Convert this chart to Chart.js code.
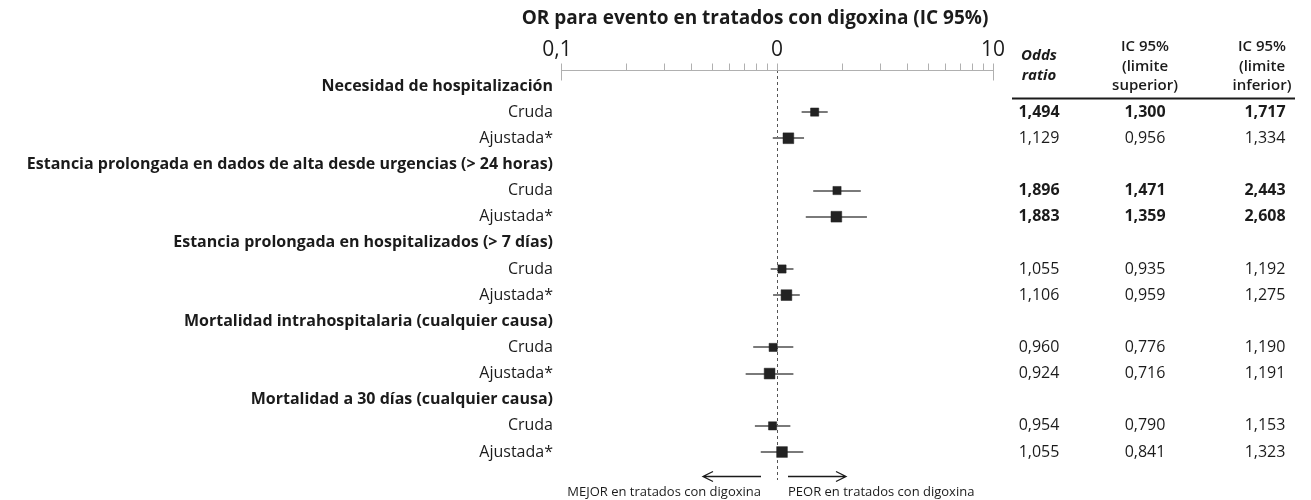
<!DOCTYPE html>
<html lang="es">
<head>
<meta charset="utf-8">
<title>OR para evento en tratados con digoxina</title>
<script src="https://cdn.jsdelivr.net/npm/chart.js@4.4.1/dist/chart.umd.min.js"></script>
<style>
  html, body { margin: 0; padding: 0; background: #ffffff; }
  #wrap { position: relative; width: 1311px; height: 500px; }
</style>
</head>
<body>
<div id="wrap"><canvas id="forest" width="1311" height="500"></canvas></div>
<script>
// Outcomes and the two models reported for each one
const outcomes = [
  'Necesidad de hospitalización',
  'Estancia prolongada en dados de alta desde urgencias (> 24 horas)',
  'Estancia prolongada en hospitalizados (> 7 días)',
  'Mortalidad intrahospitalaria (cualquier causa)',
  'Mortalidad a 30 días (cualquier causa)'
];
const models = ['Cruda', 'Ajustada*'];

// One value per outcome/model pair, in outcome order (Cruda, Ajustada*)
const oddsRatio = [1.494, 1.129, 1.896, 1.883, 1.055, 1.106, 0.960, 0.924, 0.954, 1.055];
const ciLower   = [1.300, 0.956, 1.471, 1.359, 0.935, 0.959, 0.776, 0.716, 0.790, 0.841];
const ciUpper   = [1.717, 1.334, 2.443, 2.608, 1.192, 1.275, 1.190, 1.191, 1.153, 1.323];

// Log axis ticks and the labels printed above the major ones
const axisTicks = [0.1, 0.2, 0.3, 0.4, 0.5, 0.6, 0.7, 0.8, 0.9, 1, 2, 3, 4, 5, 6, 7, 8, 9, 10];
const axisMajorTicks = [0.1, 1, 10];
const axisMajorLabels = ['0,1', '0', '10'];

const titleText = 'OR para evento en tratados con digoxina (IC 95%)';
const tableHeaders = [
  ['Odds', 'ratio'],
  ['IC 95%', '(limite', 'superior)'],
  ['IC 95%', '(limite', 'inferior)']
];
const directionLabels = ['MEJOR en tratados con digoxina', 'PEOR en tratados con digoxina'];

const FONT = '"Open Sans", sans-serif';
const INK = '#1b1b1b';

// Row index of each estimate: every outcome takes a heading row plus one row per model
const rowOf = oddsRatio.map((_, i) => Math.floor(i / models.length) * (models.length + 1) + 1 + (i % models.length));
const fmt = v => v.toFixed(3).replace('.', ',');

const points = oddsRatio.map((v, i) => ({ x: v, y: rowOf[i] }));

const forestPlugin = {
  id: 'forestLayer',
  beforeDatasetsDraw(chart) {
    const { ctx, scales: { x, y }, chartArea } = chart;
    ctx.save();
    // reference line at OR = 1
    ctx.strokeStyle = '#555';
    ctx.lineWidth = 1;
    ctx.setLineDash([3, 3]);
    const x1 = Math.round(x.getPixelForValue(1)) + 0.5;
    ctx.beginPath();
    ctx.moveTo(x1, chartArea.top);
    ctx.lineTo(x1, chartArea.bottom);
    ctx.stroke();
    ctx.setLineDash([]);

    // confidence interval whiskers
    ctx.strokeStyle = '#7a7a7a';
    ctx.lineWidth = 2;
    oddsRatio.forEach((_, i) => {
      const py = Math.round(y.getPixelForValue(rowOf[i]));
      ctx.beginPath();
      ctx.moveTo(x.getPixelForValue(ciLower[i]), py);
      ctx.lineTo(x.getPixelForValue(ciUpper[i]), py);
      ctx.stroke();
    });
    ctx.restore();
  },
  afterDraw(chart) {
    const { ctx, scales: { x, y }, chartArea } = chart;
    ctx.save();

    // title
    ctx.fillStyle = INK;
    ctx.font = `bold 19px ${FONT}`;
    ctx.textAlign = 'center';
    ctx.textBaseline = 'middle';
    ctx.fillText(titleText, 755, 19);

    // log axis along the top
    const axisY = chartArea.top + 0.5;
    ctx.strokeStyle = '#b0b0b0';
    ctx.lineWidth = 1;
    ctx.beginPath();
    ctx.moveTo(x.getPixelForValue(axisTicks[0]), axisY);
    ctx.lineTo(x.getPixelForValue(axisTicks[axisTicks.length - 1]), axisY);
    ctx.stroke();
    axisTicks.forEach(t => {
      const px = Math.round(x.getPixelForValue(t)) + 0.5;
      const major = axisMajorTicks.includes(t);
      ctx.beginPath();
      ctx.moveTo(px, axisY - 7);
      ctx.lineTo(px, major && t !== 1 ? axisY + 10 : axisY);
      ctx.stroke();
    });
    ctx.fillStyle = INK;
    ctx.font = `21px ${FONT}`;
    ctx.textAlign = 'center';
    axisMajorTicks.forEach((t, k) => {
      ctx.fillText(axisMajorLabels[k], x.getPixelForValue(t) - (k === 0 ? 4 : 0), 50);
    });

    // row labels
    ctx.textAlign = 'right';
    ctx.textBaseline = 'middle';
    outcomes.forEach((name, g) => {
      const base = g * (models.length + 1);
      ctx.font = `bold 16px ${FONT}`;
      ctx.fillText(name, 553, y.getPixelForValue(base));
      models.forEach((m, k) => {
        ctx.font = `16px ${FONT}`;
        ctx.fillText(m, 553, y.getPixelForValue(base + 1 + k));
      });
    });

    // table headers
    const colX = [1039, 1145, 1262];
    ctx.textAlign = 'center';
    ctx.font = `italic bold 15px ${FONT}`;
    tableHeaders[0].forEach((line, j) => ctx.fillText(line, colX[0], 56 + j * 19.5));
    [1, 2].forEach(c => {
      ctx.font = `600 15px ${FONT}`;
      tableHeaders[c].forEach((line, j) => ctx.fillText(line, colX[c], 47 + j * 19.5));
    });
    ctx.strokeStyle = INK;
    ctx.lineWidth = 2;
    ctx.beginPath();
    ctx.moveTo(1012, 98.5);
    ctx.lineTo(1295, 98.5);
    ctx.stroke();

    // table values
    oddsRatio.forEach((v, i) => {
      const py = y.getPixelForValue(rowOf[i]);
      const strong = ciLower[i] > 1;
      ctx.font = `${strong ? 'bold ' : ''}16px ${FONT}`;
      [v, ciLower[i], ciUpper[i]].forEach((val, c) => ctx.fillText(fmt(val), colX[c] + (c === 2 ? 3 : 0), py));
    });

    // direction arrows and captions
    const x1 = x.getPixelForValue(1);
    const ay = 476.5;
    ctx.strokeStyle = INK;
    ctx.lineWidth = 1.3;
    const arrow = (from, to) => {
      const d = Math.sign(to - from);
      ctx.beginPath();
      ctx.moveTo(from, ay);
      ctx.lineTo(to, ay);
      ctx.moveTo(to - d * 10, ay - 5);
      ctx.lineTo(to, ay);
      ctx.lineTo(to - d * 10, ay + 5);
      ctx.stroke();
    };
    arrow(x1 - 16, x1 - 74);
    arrow(x1 + 11, x1 + 69);
    ctx.font = `13px ${FONT}`;
    ctx.textAlign = 'right';
    ctx.fillText(directionLabels[0], x1 - 16, 492);
    ctx.textAlign = 'left';
    ctx.fillText(directionLabels[1], x1 + 11, 492);
    ctx.restore();
  }
};

new Chart(document.getElementById('forest'), {
  type: 'scatter',
  data: {
    datasets: [{
      label: 'Odds ratio',
      data: points,
      pointStyle: 'rect',
      pointRadius: ctx => (ctx.dataIndex % models.length === 0 ? 5.8 : 7.6),
      pointHoverRadius: ctx => (ctx.dataIndex % models.length === 0 ? 5.8 : 7.6),
      backgroundColor: '#222222',
      borderColor: '#222222',
      borderWidth: 0.5
    }]
  },
  options: {
    responsive: false,
    animation: false,
    events: [],
    layout: { padding: { left: 561, right: 318, top: 70, bottom: 20 } },
    plugins: { legend: { display: false }, tooltip: { enabled: false }, title: { display: false } },
    scales: {
      x: { type: 'logarithmic', min: 0.1, max: 10, display: false },
      y: { type: 'linear', reverse: true, min: -0.61, max: 15.07, display: false }
    }
  },
  plugins: [forestPlugin]
});
</script>
</body>
</html>
